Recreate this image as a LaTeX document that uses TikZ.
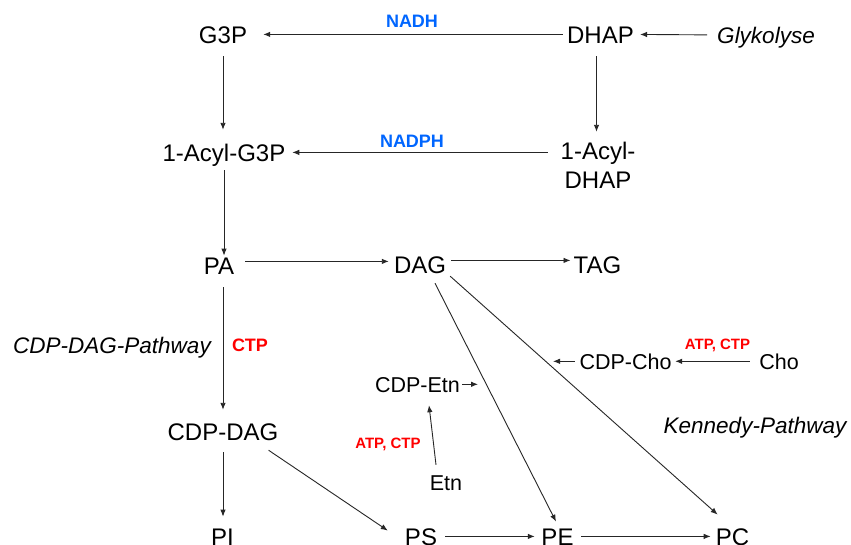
\documentclass[tikz,border=0pt]{standalone}
\usepackage{fontspec}
\setmainfont{Liberation Sans}
\usetikzlibrary{arrows.meta}
\definecolor{nblue}{RGB}{0,102,255}
\definecolor{nred}{RGB}{255,0,0}
\begin{document}
\begin{tikzpicture}[x=1pt,y=-1pt,
  mol/.style={inner sep=0pt, anchor=base, font=\fontsize{24}{28}\selectfont, text height=17.2pt, text depth=0pt},
  molsm/.style={inner sep=0pt, anchor=base, font=\fontsize{21.5}{25}\selectfont, text height=15.4pt, text depth=0pt},
  pathlbl/.style={inner sep=0pt, anchor=base, font=\fontsize{22.5}{26}\selectfont\itshape, text height=16.1pt, text depth=0pt},
  cof/.style={inner sep=0pt, anchor=base, font=\fontsize{18}{21}\selectfont\bfseries},
  cofsm/.style={inner sep=0pt, anchor=base, font=\fontsize{15}{18}\selectfont\bfseries, text=nred},
  arr/.style={-{Latex[length=7pt,width=5.5pt]}, line width=0.9pt, draw=black!85}
]
\clip (0,0) rectangle (851,544);
\fill[white] (0,0) rectangle (851,544);

% main nodes
\node[mol] (g3p) at (223,43) {G3P};
\node[mol] (dhap) at (600.5,43) {DHAP};
\node[pathlbl] (glyk) at (766,43) {Glykolyse};
\node[mol] (acylg3p) at (224,161) {1-Acyl-G3P};
\node[inner sep=0pt, anchor=north, align=center, font=\fontsize{24}{29}\selectfont] (acyldhap) at (598,141.8) {1-Acyl-\\DHAP};
\node[mol] (pa) at (219,274) {PA};
\node[mol] (dag) at (420,273) {DAG};
\node[mol] (tag) at (597.5,273) {TAG};
\node[mol] (cdpdag) at (223,440) {CDP-DAG};
\node[mol] (pi) at (222.5,545) {PI};
\node[mol] (ps) at (421,545) {PS};
\node[mol] (pe) at (557.5,545) {PE};
\node[mol] (pc) at (732.5,545) {PC};
\node[molsm] (cdpcho) at (625.5,369) {CDP-Cho};
\node[molsm] (cho) at (779,369) {Cho};
\node[molsm] (cdpetn) at (417.5,392) {CDP-Etn};
\node[molsm] (etn) at (446,490.4) {Etn};

% labels
\node[cof, text=nblue] (nadh) at (412,27) {NADH};
\node[cof, text=nblue] (nadph) at (412,147) {NADPH};
\node[cof, text=nred] (ctp) at (250,351) {CTP};
\node[cofsm] (atp1) at (717.5,349) {ATP, CTP};
\node[cofsm] (atp2) at (388,448) {ATP, CTP};
\node[pathlbl] (cdppath) at (112,353) {CDP-DAG-Pathway};
\node[pathlbl] (kennedy) at (755,433) {Kennedy-Pathway};

% free ends
\coordinate (chotip) at (553,361.3);
\coordinate (etntip) at (478,384.3);

% connectors
\draw[arr, shorten <=4pt, shorten >=16pt] (dhap.west) -- (g3p.east);
\draw[arr, shorten <=10pt, shorten >=6pt] (glyk.west) -- (dhap.east);
\draw[arr, shorten <=13pt, shorten >=13.8pt] (g3p.south) -- (g3p.south |- acylg3p.north);
\draw[arr, shorten <=13pt, shorten >=10pt] ([xshift=-4pt]dhap.south) -- ([xshift=-4pt]dhap.south |- acyldhap.north);
\draw[arr, shorten <=12.7pt, shorten >=6.7pt] (acyldhap.west |- acylg3p.east) -- (acylg3p.east);
\draw[arr, shorten <=9pt, shorten >=1pt] (acylg3p.south) -- (acylg3p.south |- pa.north);
\draw[arr, shorten <=11pt, shorten >=5pt] ([yshift=4pt]pa.east) -- ([yshift=4pt]pa.east -| dag.west);
\draw[arr, shorten <=5pt, shorten >=3pt] ([yshift=4pt]dag.east) -- ([yshift=4pt]dag.east -| tag.west);
\draw[arr, shorten <=13pt, shorten >=12.8pt] (cdpdag.north |- pa.south) -- (cdpdag.north);
\draw[arr, shorten <=12pt, shorten >=11pt] (cdpdag.south) -- (cdpdag.south |- pi.north);
\draw[arr] ([shift={(-10,10)}]cdpdag.south east) -- ([shift={(-17,3)}]ps.north west);
\draw[arr, shorten <=8pt, shorten >=6.5pt] (ps.east) -- (pe.west);
\draw[arr, shorten <=7.5pt, shorten >=5pt] (pe.east) -- (pc.west);
\draw[arr] ([shift={(15,10)}]dag.south) -- ([shift={(-1.5,-6)}]pe.north);
\draw[arr] ([shift={(4,3)}]dag.south east) -- ([shift={(2,-13)}]pc.north west);
\draw[arr, shorten <=9.3pt, shorten >=3.5pt] (cho.west) -- (cdpcho.east);
\draw[arr, shorten <=4.5pt] (cdpcho.west) -- (chotip);
\draw[arr, shorten <=2pt] (cdpetn.east) -- (etntip);
\draw[arr] ([shift={(-10,-10)}]etn.north) -- ([shift={(11.5,13)}]cdpetn.south);
\end{tikzpicture}
\end{document}
